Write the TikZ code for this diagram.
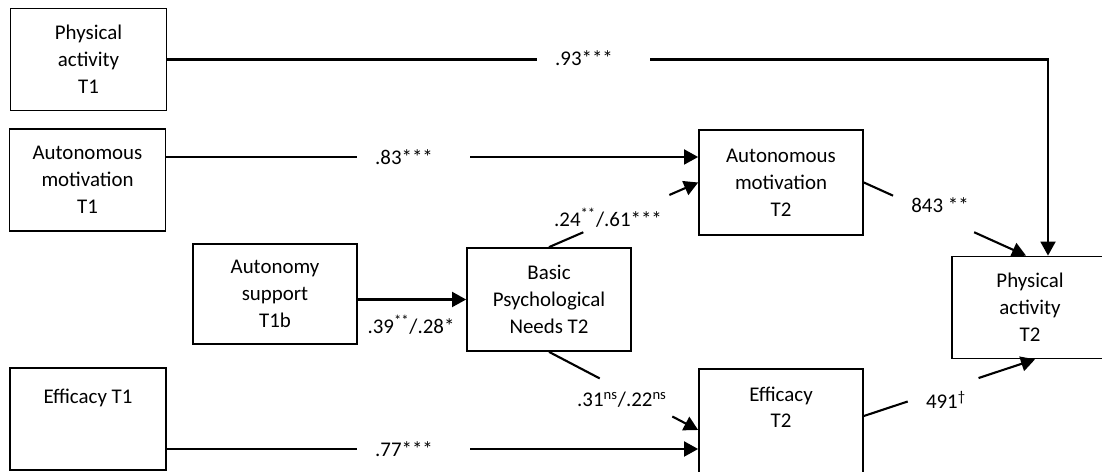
\documentclass[tikz,border=0pt]{standalone}
\usepackage{fontspec}
\setmainfont{Carlito}
\usetikzlibrary{arrows.meta,calc}

\tikzstyle{box} = [draw,line width=1pt,align=center,inner sep=2pt,minimum width=3.28cm,minimum height=2.04cm]
\tikzstyle{tbox} = [box,minimum width=3.12cm]
\tikzstyle{line} = [line width=1.2pt]
\tikzstyle{arrow} = [line width=1.2pt,-{Triangle[length=8pt,width=8.5pt]}]
\tikzstyle{weight} = [inner sep=1pt]

\begin{document}
\begin{tikzpicture}[x=0.02cm,y=-0.02cm,font=\fontsize{11.9}{15.3}\selectfont]

\useasboundingbox (0,0) rectangle (1102,472);

% Time 1 boxes
\node [tbox] (pa1) at (88.5,59.5) {Physical\\activity\\T1};
\node [tbox] (am1) at (87.5,180) {Autonomous\\motivation\\T1};
\node [tbox,label={[anchor=north,yshift=-8.8pt]north:Efficacy T1}] (eff1) at (88,419) {};

% Middle boxes
\node [box,minimum height=2cm] (as) at (275,294) {Autonomy\\support\\T1b};
\node [box,minimum height=2.06cm] (bpn) at (549,299.5) {Basic\\Psychological\\Needs T2};

% Time 2 boxes
\node [box,minimum height=2.1cm] (am2) at (781,182.5) {Autonomous\\motivation\\T2};
\node [box,minimum height=2.44cm,label={[anchor=north,align=center,yshift=-7pt]north:Efficacy\\T2}] (eff2) at (781,430) {};
\node [tbox] (pa2) at (1030,307.5) {Physical\\activity\\T2};

% Physical activity T1 to T2
\coordinate (g1a) at (537,59.5);
\coordinate (g1b) at (650,59.5);
\coordinate (bend) at (1048,59.5);
\draw [line] (pa1.east) -- (g1a);
\draw [arrow] (g1b) -- (bend) -- (bend |- pa2.north);
\node [weight] (w1) at (584,58) {.93***};

% Autonomous motivation T1 to T2
\coordinate (g2a) at (357,157);
\coordinate (g2b) at (470,157);
\draw [line] (am1.east |- g2a) -- (g2a);
\draw [arrow] (g2b) -- (am2.west |- g2b);
\node [weight] (w2) at (404,157) {.83***};

% Efficacy T1 to T2
\coordinate (g3a) at (357,449);
\coordinate (g3b) at (470,449);
\draw [line] (eff1.east |- g3a) -- (g3a);
\draw [arrow] (g3b) -- (eff2.west |- g3b);
\node [weight] (w3) at (404,449) {.77***};

% Autonomy support to needs
\draw [arrow] (as.east |- bpn.west) -- (bpn.west);
\node [weight] (w4) at (411,325) {.39\textsuperscript{**}/.28*};

% Needs to autonomous motivation and efficacy
\draw [line] (bpn.north) -- ($(bpn.north)!0.23!(am2.west)$);
\draw [arrow] ($(bpn.north)!0.807!(am2.west)$) -- (am2.west);
\node [weight] (w5) at (608,218) {.24\textsuperscript{**}/.61***};

\draw [line] (bpn.south) -- ($(bpn.south)!0.34!(eff2.west)$);
\draw [arrow] ($(bpn.south)!0.827!(eff2.west)$) -- (eff2.west);
\node [weight] (w6) at (622,400) {.31\textsuperscript{ns}/.22\textsuperscript{ns}};

% Time 2 predictors of physical activity
\coordinate (amend) at ($(pa2.north)+(-4,0)$);
\draw [line] (am2.east) -- ($(am2.east)!0.18!(amend)$);
\draw [arrow] ($(am2.east)!0.68!(amend)$) -- (amend);
\node [weight] (w7) at (940,205) {843 **};

\coordinate (effstart) at ($(eff2.east)+(0,-14)$);
\coordinate (effend) at ($(pa2.south)+(5,0)$);
\draw [line] (effstart) -- ($(effstart)!0.256!(effend)$);
\draw [arrow] ($(effstart)!0.67!(effend)$) -- (effend);
\node [weight] (w8) at (946,400) {491\textsuperscript{\textdagger}};

\end{tikzpicture}
\end{document}
